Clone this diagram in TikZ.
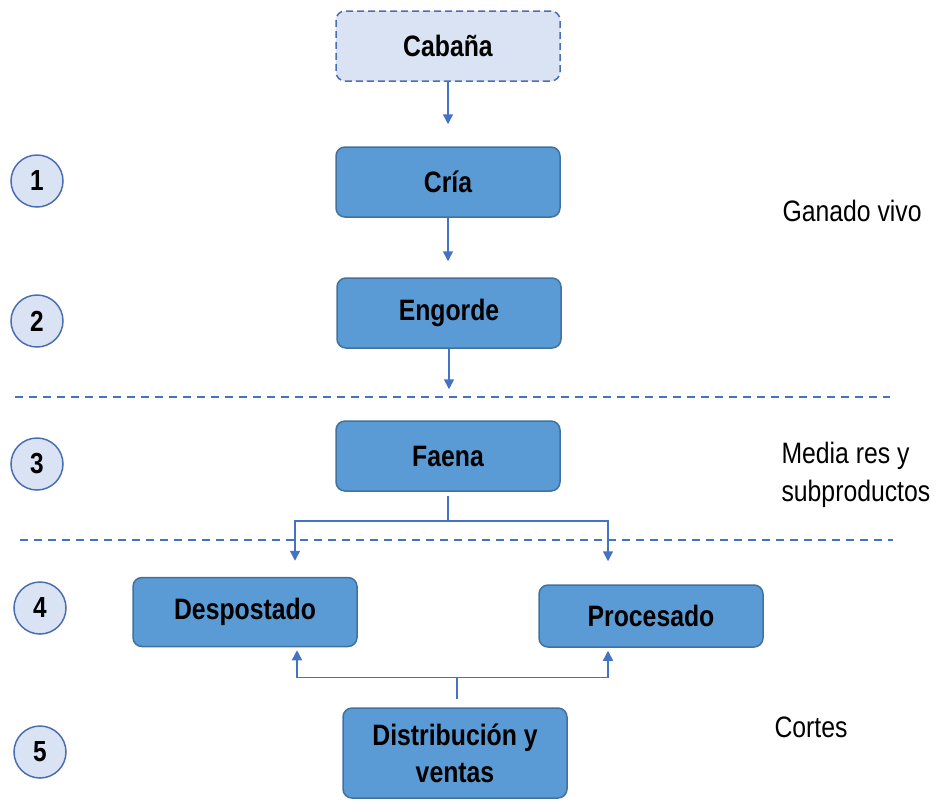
\documentclass[tikz,border=0pt]{standalone}
\usepackage{fontspec}
\setmainfont{Liberation Sans}[FakeStretch=0.84]
\usetikzlibrary{arrows.meta}

\definecolor{boxfill}{HTML}{5B9BD5}
\definecolor{boxline}{HTML}{41719C}
\definecolor{palefill}{HTML}{DAE3F3}
\definecolor{paleline}{HTML}{4A6FB0}
\definecolor{linkblue}{HTML}{4472C4}

\begin{document}
\begin{tikzpicture}[x=1pt,y=-1pt,
    stagebox/.style={draw=boxline, fill=boxfill, line width=1.5pt, rounded corners=9pt,
        minimum width=224pt, minimum height=70pt, align=center,
        font=\fontsize{29.5}{37}\selectfont\bfseries},
    sourcebox/.style={stagebox, draw=paleline, fill=palefill, dashed, dash pattern=on 7pt off 4pt},
    num/.style={circle, draw=paleline, fill=palefill, line width=1.5pt, minimum size=52pt,
        inner sep=0pt, font=\fontsize{29}{30}\selectfont\bfseries},
    tag/.style={anchor=west, align=left, font=\fontsize{29.5}{38}\selectfont},
    link/.style={draw=linkblue, line width=1.5pt},
    arrow/.style={link, -{Triangle[length=10pt, width=10pt]}},
    sep/.style={draw=linkblue, line width=1.3pt, dash pattern=on 8pt off 6pt}]
    \useasboundingbox (0,0) rectangle (936,801);

    % stages
    \node[sourcebox] (cabana) at (448,46) {Cabaña};
    \node[stagebox] (cria) at (448,182) {Cría};
    \node[stagebox] (engorde) at (449,313) {Engorde};
    \node[stagebox] (faena) at (448,456) {Faena};
    \node[stagebox, minimum height=69pt] (despostado) at (245,612) {Despostado};
    \node[stagebox, minimum height=62pt] (procesado) at (651,616) {Procesado};
    \node[stagebox, minimum height=90pt] (distrib) at (455,753) {Distribución y\\ventas};

    % step numbers
    \node[num] (n1) at (37,181) {1};
    \node[num] (n2) at (37,321) {2};
    \node[num] (n3) at (37,464) {3};
    \node[num] (n4) at (40,608) {4};
    \node[num] (n5) at (40,752) {5};

    % side labels
    \node[tag] (vivo) at (779,211) {Ganado vivo};
    \node[tag] (media) at (778,475) {Media res y\\subproductos};
    \node[tag] (cortes) at (771,727) {Cortes};

    % separators
    \draw[sep] (15,397) -- (890,397);
    \draw[sep] (20,540) -- (893,540);

    % flow
    \draw[arrow, shorten >=22pt] (cabana.south) -- (cabana.south |- cria.north);
    \draw[arrow, shorten >=16pt] (cria.south) -- (cria.south |- engorde.north);
    \draw[arrow, shorten >=31pt] (engorde.south) -- (engorde.south |- faena.north);

    \coordinate (fork) at ([yshift=-29pt]faena.south);
    \draw[link, shorten <=4pt] (faena.south) -- (fork);
    \draw[arrow, shorten >=16pt] (fork) -| ([xshift=50pt]despostado.north);
    \draw[arrow, shorten >=23pt] (fork) -| ([xshift=-43pt]procesado.north);

    \coordinate (join) at ([xshift=2pt, yshift=30pt]distrib.north);
    \draw[link] ([xshift=2pt, yshift=8pt]distrib.north) -- (join);
    \draw[arrow, shorten >=3pt] (join) -| ([xshift=52pt]despostado.south);
    \draw[arrow, shorten >=3pt] (join) -| ([xshift=-43pt]procesado.south);
\end{tikzpicture}
\end{document}
